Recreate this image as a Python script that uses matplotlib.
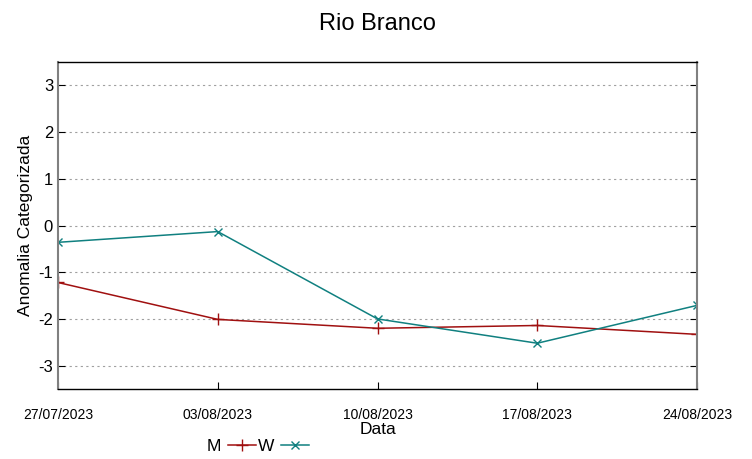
import matplotlib
matplotlib.use("Agg")
import matplotlib.pyplot as plt
from matplotlib.lines import Line2D

dates = ["27/07/2023", "03/08/2023", "10/08/2023", "17/08/2023", "24/08/2023"]
m_values = [-1.22, -2.01, -2.20, -2.14, -2.33]
w_values = [-0.36, -0.13, -2.00, -2.52, -1.71]
yticks = [-3, -2, -1, 0, 1, 2, 3]

plt.rcParams['font.family'] = ['Liberation Sans', 'DejaVu Sans']

fig = plt.figure(figsize=(7.52, 4.59), dpi=100)
ax = fig.add_axes([0.0771, 0.1525, 0.8498, 0.7124])

x = list(range(len(dates)))
mcol = "#a01010"
wcol = "#108080"
ax.plot(x, m_values, color=mcol, lw=1.1, marker="+", ms=8, mew=1.0)
ax.plot(x, w_values, color=wcol, lw=1.1, marker="x", ms=6, mew=1.0)

ax.set_xlim(0, len(dates) - 1)
ax.set_ylim(-3.5, 3.5)
ax.set_yticks(yticks)
ax.set_yticklabels([str(v) for v in yticks], fontsize=12)
ax.set_xticks(x)
ax.set_xticklabels(dates, fontsize=10)
ax.tick_params(axis='x', direction='in', pad=14, length=5, top=False)
ax.tick_params(axis='y', direction='in', length=5, right=True, labelsize=12)
ax.grid(axis='y', color='#a0a0a0', linestyle=(0, (2, 3)), lw=0.8)

for s in ['left', 'right']:
    ax.spines[s].set_color('#808080')
    ax.spines[s].set_linewidth(1.5)
for s in ['top', 'bottom']:
    ax.spines[s].set_color('black')
    ax.spines[s].set_linewidth(1.0)

ax.set_title("Rio Branco", fontsize=17, pad=23)
ax.set_ylabel("Anomalia Categorizada", fontsize=12.5, labelpad=4)
ax.set_xlabel("Data", fontsize=12.5, labelpad=0)

handles = [Line2D([0], [0], color=mcol, lw=1.1, marker="+", ms=8, mew=1.0),
           Line2D([0], [0], color=wcol, lw=1.1, marker="x", ms=6, mew=1.0)]
fig.legend(handles, ["M", "W"], loc='center', bbox_to_anchor=(0.343, 0.027),
           ncol=2, frameon=False, fontsize=12.5, markerfirst=False,
           handlelength=1.6, handletextpad=0.4, columnspacing=0.1)

fig.savefig("out.png", dpi=100)
